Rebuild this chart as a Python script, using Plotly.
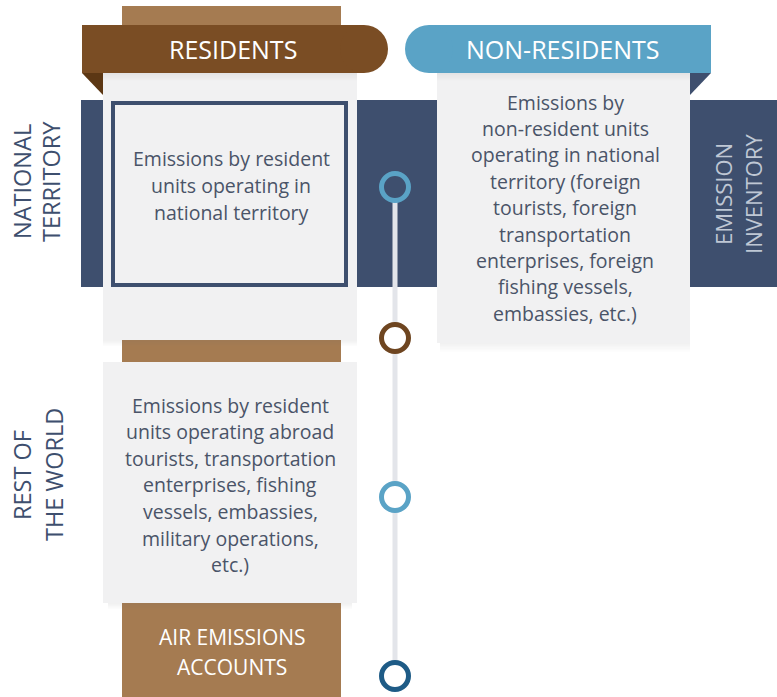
import plotly.graph_objects as go

# ---- content ----
column_headers = ["RESIDENTS", "NON-RESIDENTS"]
row_labels = [["NATIONAL", "TERRITORY"], ["REST OF", "THE WORLD"]]
side_label = ["EMISSION", "INVENTORY"]
bottom_label = ["AIR EMISSIONS", "ACCOUNTS"]

text_res_national = ["Emissions by resident", "units operating in", "national territory"]
text_nonres_national = [
    "Emissions by", "non-resident units", "operating in national",
    "territory (foreign", "tourists, foreign", "transportation",
    "enterprises, foreign", "fishing vessels,", "embassies, etc.)",
]
text_res_abroad = [
    "Emissions by resident", "units operating abroad", "tourists, transportation",
    "enterprises, fishing", "vessels, embassies,", "military operations,", "etc.)",
]

# timeline nodes
node_y = [187, 338, 497, 676]
node_ring = ["#5AA3C6", "#6E4520", "#5AA3C6", "#1E5B86"]
node_fill = ["#3E4F6E", "#FFFFFF", "#FFFFFF", "#FFFFFF"]

NAVY = "#3E4F6E"
TAN = "#A57B51"
BROWN = "#7A4D24"
BROWN_DARK = "#5C3714"
BLUE = "#5AA3C6"
PANEL = "#F1F1F2"
TEXT = "#4A5468"
FONT = "Open Sans"

W, H = 777, 697

shapes = []


def rect(x0, y0, x1, y1, fill, line_color=None, line_width=0, opacity=1):
    shapes.append(dict(type="rect", xref="x", yref="y", x0=x0, x1=x1, y0=y0, y1=y1,
                       fillcolor=fill, opacity=opacity, layer="below",
                       line=dict(color=line_color or fill, width=line_width)))


def shadow(x0, x1, y, steps=6):
    for i in range(steps):
        a = 0.10 * (1 - i / steps)
        yy = y + i * 1.5
        rect(x0, yy, x1, yy + 1.5, "#7A7A7A", opacity=a)


# tan column behind everything
rect(122, 6, 341, 697, TAN)
# navy band (national territory)
rect(81, 100, 777, 287, NAVY)

# panels
rect(103, 73, 357, 340, PANEL)
shadow(103, 357, 340, steps=4)
rect(103, 362, 357, 603, PANEL)
shadow(108, 352, 603, steps=4)
rect(437, 73, 690, 343, PANEL)
shadow(440, 690, 343, steps=6)

# bordered box inside residents / national
rect(113, 103, 346, 285, PANEL, line_color=NAVY, line_width=4)

# banner shadows on panels
shadow(103, 357, 73, steps=5)
shadow(437, 690, 73, steps=5)

# residents banner
rect(82, 25, 364, 73, BROWN)
shapes.append(dict(type="circle", xref="x", yref="y", x0=340, x1=388, y0=25, y1=73,
                   fillcolor=BROWN, line=dict(width=0), layer="below"))
shapes.append(dict(type="path", xref="x", yref="y", path="M82,73 L103,73 L103,95 Z",
                   fillcolor=BROWN_DARK, line=dict(width=0), layer="below"))

# non-residents banner
rect(429, 25, 711, 73, BLUE)
shapes.append(dict(type="circle", xref="x", yref="y", x0=405, x1=453, y0=25, y1=73,
                   fillcolor=BLUE, line=dict(width=0), layer="below"))
shapes.append(dict(type="path", xref="x", yref="y", path="M690,73 L711,73 L690,95 Z",
                   fillcolor=NAVY, line=dict(width=0), layer="below"))

fig = go.Figure()

# timeline
fig.add_trace(go.Scatter(x=[395, 395], y=[node_y[0], node_y[-1]], mode="lines",
                         line=dict(color="#E3E5EA", width=5), hoverinfo="skip", showlegend=False))
fig.add_trace(go.Scatter(x=[395] * len(node_y), y=node_y, mode="markers",
                         marker=dict(symbol="circle", size=27, color=node_fill,
                                     line=dict(color=node_ring, width=5)),
                         hoverinfo="skip", showlegend=False))

ann = []


def label(x, y, text, size, color, angle=0):
    ann.append(dict(x=x, y=y, xref="x", yref="y", text=text, showarrow=False,
                    textangle=angle, xanchor="center", yanchor="middle",
                    font=dict(family=FONT, size=size, color=color)))


# headers
label(233, 49, column_headers[0], 25, "#FFFFFF")
label(562, 49, column_headers[1], 25, "#FFFFFF")

# row labels (rotated)
for i, line in enumerate(row_labels[0]):
    label(22 + i * 29, 182, line, 23.5, NAVY, -90)
for i, line in enumerate(row_labels[1]):
    label(22 + i * 32, 475, line, 23.5, NAVY, -90)
for i, line in enumerate(side_label):
    label(723 + i * 30, 194, line, 22, "#BFC7D4", -90)

# panel texts
for i, line in enumerate(text_res_national):
    label(231, 158 + i * 27, line, 19.5, TEXT)
for i, line in enumerate(text_nonres_national):
    label(565, 102 + i * 26.4, line, 19.5, TEXT)
for i, line in enumerate(text_res_abroad):
    label(230, 405 + i * 26.6, line, 19.5, TEXT)

for i, line in enumerate(bottom_label):
    label(232, 637 + i * 30, line, 21, "#FFFFFF")

fig.update_layout(
    width=W, height=H,
    margin=dict(l=0, r=0, t=0, b=0),
    paper_bgcolor="#FFFFFF", plot_bgcolor="#FFFFFF",
    xaxis=dict(range=[0, W], visible=False, fixedrange=True),
    yaxis=dict(range=[H, 0], visible=False, fixedrange=True),
    shapes=shapes, annotations=ann, showlegend=False,
)

# drop the default 8px page margin so the figure sits at the window's corner
fig.write_html("out.html", config={"displayModeBar": False},
               post_script="document.body.style.margin='0';")
